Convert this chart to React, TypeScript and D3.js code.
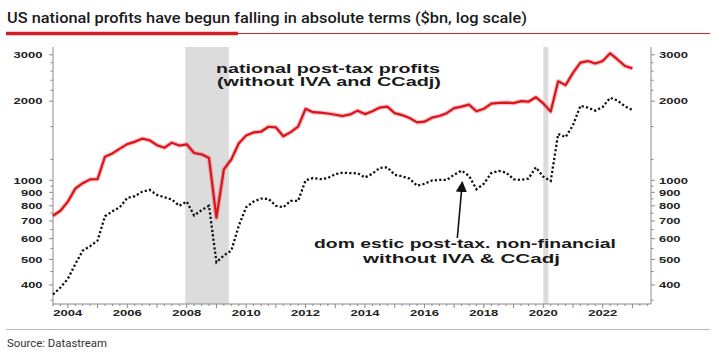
import React from "react";
import * as d3 from "d3";

// Quarterly data, 2003Q3 .. 2023Q1 ($bn, log scale)
const nationalProfits = [
  733, 766, 830, 930, 975, 1008, 1011, 1230, 1265, 1320,
  1372, 1400, 1440, 1420, 1360, 1330, 1390, 1355, 1370, 1270,
  1255, 1215, 721, 1100, 1200, 1380, 1480, 1520, 1530, 1598,
  1590, 1470, 1525, 1600, 1870, 1815, 1807, 1795, 1775, 1755,
  1780, 1840, 1785, 1830, 1890, 1905, 1800, 1770, 1725, 1660,
  1670, 1730, 1755, 1800, 1880, 1905, 1940, 1830, 1870, 1955,
  1968, 1975, 1965, 2000, 1990, 2070, 1960, 1825, 2380, 2300,
  2560, 2800, 2840, 2780, 2840, 3040, 2880, 2720, 2665,
];
const domesticNonFinancial = [
  368, 391, 422, 480, 540, 562, 590, 730, 762, 790,
  858, 870, 905, 920, 880, 862, 845, 800, 830, 735,
  770, 800, 488, 518, 540, 670, 790, 830, 852, 850,
  800, 790, 835, 835, 1000, 1020, 1010, 1020, 1055, 1069,
  1065, 1063, 1025, 1060, 1115, 1120, 1050, 1035, 1015, 955,
  970, 998, 1003, 1003, 1050, 1088, 1040, 925, 970, 1065,
  1085, 1070, 1009, 1003, 1015, 1120, 1032, 994, 1500, 1460,
  1620, 1920, 1890, 1840, 1900, 2060, 2010, 1910, 1850,
];
const firstQuarter = 2003.5;
const quarters = nationalProfits.map((_, i) => firstQuarter + i * 0.25);

const yearLabels = [2004, 2006, 2008, 2010, 2012, 2014, 2016, 2018, 2020, 2022];
const yTickLabels = [400, 500, 600, 700, 800, 900, 1000, 2000, 3000];
const yMinorTicks = [350, 450, 550, 650, 750, 850, 950, 1200, 1600, 2200, 2400, 2600, 2800];
const recessions: [number, number][] = [
  [2007.95, 2009.42],
  [2020.0, 2020.17],
];

const title = "US national profits have begun falling in absolute terms ($bn, log scale)";
const source = "Source: Datastream";

const W = 716;
const H = 357;
const L = 53;
const R = 651;
const T = 47;
const B = 304;

export default function App() {
  const x = d3.scaleLinear().domain([2003.5, 2023.625]).range([L, R]);
  const y = d3.scaleLog().domain([338.6, 3212]).range([B, T]);

  const line = d3
    .line<number>()
    .x((_, i) => x(quarters[i]))
    .y((d) => y(d))
    .curve(d3.curveLinear);

  const quarterTicks = d3.range(2003.5, 2023.626, 0.25);
  const axisColor = "#8a8a8a";
  const tickFont = "'Liberation Sans', Arial, sans-serif";

  const labelW = (v: number) => String(v).length * 7.5;

  return (
    <div style={{ position: "absolute", left: 0, top: 0 }}>
      <svg width={W} height={H} viewBox={`0 0 ${W} ${H}`} style={{ display: "block", background: "#fff" }}>
        {/* title */}
        <text
          x={7}
          y={23}
          fontFamily="Roboto, 'Noto Sans', sans-serif"
          fontSize={15}
          fontWeight={500}
          fill="#1a1a1a"
          textLength={520}
          lengthAdjust="spacingAndGlyphs"
        >
          {title}
        </text>
        <line x1={6} x2={710} y1={33.5} y2={33.5} stroke="#c8262b" strokeWidth={1} />
        <line x1={6} x2={238} y1={33.5} y2={33.5} stroke="#d21f26" strokeWidth={3.5} />

        {/* recession shading */}
        {recessions.map(([a, b], i) => (
          <rect key={i} x={x(a)} y={T} width={x(b) - x(a)} height={B - T} fill="#dcdcdc" />
        ))}

        {/* axes */}
        <line x1={L} x2={L} y1={T} y2={B} stroke={axisColor} strokeWidth={1} />
        <line x1={R} x2={R} y1={T} y2={B} stroke={axisColor} strokeWidth={1} />
        <line x1={L} x2={R} y1={B} y2={B} stroke={axisColor} strokeWidth={1} />

        {quarterTicks.map((t, i) => {
          const isYear = Math.abs(t - Math.round(t)) < 1e-6;
          return (
            <line
              key={i}
              x1={x(t)}
              x2={x(t)}
              y1={B}
              y2={B + (isYear ? 4 : 2)}
              stroke={axisColor}
              strokeWidth={1}
            />
          );
        })}
        {yearLabels.map((yr) => (
          <text
            key={yr}
            x={x(yr)}
            y={316}
            textAnchor="middle"
            fontFamily={tickFont}
            fontSize={9}
            fontWeight={700}
            fill="#222"
            textLength={29}
            lengthAdjust="spacingAndGlyphs"
          >
            {yr}
          </text>
        ))}

        {[...yTickLabels, ...yMinorTicks].map((v, i) => {
          const major = yTickLabels.includes(v);
          const len = major ? 4 : 2.5;
          return (
            <g key={i}>
              <line x1={L - len} x2={L} y1={y(v)} y2={y(v)} stroke={axisColor} strokeWidth={1} />
              <line x1={R} x2={R + len} y1={y(v)} y2={y(v)} stroke={axisColor} strokeWidth={1} />
            </g>
          );
        })}
        {yTickLabels.map((v) => (
          <g key={v}>
            <text
              x={43.5 - labelW(v)}
              y={y(v) + 3.3}
              fontFamily={tickFont}
              fontSize={9}
              fontWeight={700}
              fill="#222"
              textLength={labelW(v) - 1}
              lengthAdjust="spacingAndGlyphs"
            >
              {v}
            </text>
            <text
              x={659}
              y={y(v) + 3.3}
              fontFamily={tickFont}
              fontSize={9}
              fontWeight={700}
              fill="#222"
              textLength={labelW(v) - 1}
              lengthAdjust="spacingAndGlyphs"
            >
              {v}
            </text>
          </g>
        ))}

        {/* series */}
        <path d={line(nationalProfits) ?? ""} fill="none" stroke="#e8484c" strokeOpacity={0.35} strokeWidth={4.5} strokeLinejoin="round" />
        <path d={line(nationalProfits) ?? ""} fill="none" stroke="#d9141b" strokeWidth={2.2} strokeLinejoin="round" />
        <path
          d={line(domesticNonFinancial) ?? ""}
          fill="none"
          stroke="#111"
          strokeWidth={2.3}
          strokeDasharray="2.2 2.2"
        />

        {/* annotations */}
        <g fontFamily={tickFont} fontWeight={700} fontSize={12.5} fill="#1a1a1a">
          <text x={216} y={72.5} textLength={224} lengthAdjust="spacingAndGlyphs">
            national post-tax profits
          </text>
          <text x={217} y={86} textLength={224} lengthAdjust="spacingAndGlyphs">
            (without IVA and CCadj)
          </text>
          <text x={314} y={248} textLength={302} lengthAdjust="spacingAndGlyphs">
            dom estic post-tax. non-financial
          </text>
          <text x={363} y={263} textLength={197} lengthAdjust="spacingAndGlyphs">
            without IVA &amp; CCadj
          </text>
        </g>
        <defs>
          <marker id="ah" viewBox="0 0 10 10" refX="9" refY="5" markerWidth="7" markerHeight="7" orient="auto">
            <path d="M0,0 L10,5 L0,10 z" fill="#111" />
          </marker>
        </defs>
        <line x1={457.3} y1={238} x2={462.3} y2={182} stroke="#111" strokeWidth={1.6} markerEnd="url(#ah)" />

        {/* source */}
        <line x1={6} x2={710} y1={329.5} y2={329.5} stroke="#b5b5b5" strokeWidth={1} />
        <text
          x={7}
          y={347}
          fontFamily="Roboto, 'Noto Sans', sans-serif"
          fontSize={10.5}
          fill="#333"
          textLength={100}
          lengthAdjust="spacingAndGlyphs"
        >
          {source}
        </text>
      </svg>
    </div>
  );
}
